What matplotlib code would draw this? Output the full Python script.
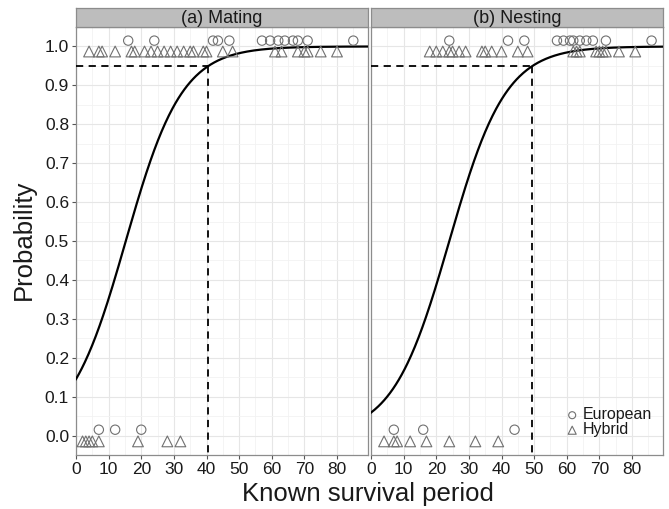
import numpy as np
import matplotlib
matplotlib.use("Agg")
import matplotlib.pyplot as plt

plt.rcParams['font.family'] = ['Liberation Sans', 'DejaVu Sans']

# ---- data ----
panel_titles = ["(a) Mating", "(b) Nesting"]

# panel (a) Mating
a_eur_success = [16, 24, 42, 43.5, 47, 57, 59.5, 62, 64, 66.5, 68, 71, 85]
a_hyb_success = [4, 7, 8, 12, 17, 18, 21, 23, 25, 27, 29, 31, 33, 35, 36, 39, 40,
                 45, 48, 61, 63, 68, 70, 71, 75, 80]
a_eur_fail = [7, 12, 20]
a_hyb_fail = [2, 3, 4, 5, 7, 19, 28, 32]
a_coef = (-1.774, 0.1162)   # logistic intercept, slope
a_x95 = 40.6

# panel (b) Nesting
b_eur_success = [24, 42, 47, 57, 59, 61, 62, 64, 66, 68, 72, 86]
b_hyb_success = [18, 20, 22, 24, 25, 27, 29, 34, 35, 37, 40, 45, 48, 62, 63, 64,
                 69, 70, 71, 72, 76, 81]
b_eur_fail = [7, 16, 44]
b_hyb_fail = [4, 7, 8, 12, 17, 24, 32, 39]
b_coef = (-2.77, 0.1154)
b_x95 = 49.5

yticks = [0.0, 0.1, 0.2, 0.3, 0.4, 0.5, 0.6, 0.7, 0.8, 0.9, 1.0]
xticks = [0, 10, 20, 30, 40, 50, 60, 70, 80]

W, H = 669, 509
fig = plt.figure(figsize=(W / 100, H / 100), dpi=100)

def fx(px):
    return px / W

def fy(py):
    return 1 - py / H

panels = [
    (76, 368, panel_titles[0], a_eur_success, a_hyb_success, a_eur_fail, a_hyb_fail, a_coef, a_x95),
    (371, 663, panel_titles[1], b_eur_success, b_hyb_success, b_eur_fail, b_hyb_fail, b_coef, b_x95),
]
top, bottom, strip_top = 27, 455, 8
XLIM = (0, 89.5)
YLIM = (-0.05, 1.05)
mk_col = '#707070'

for i, (l, r, title, es, hs, ef, hf, coef, x95) in enumerate(panels):
    ax = fig.add_axes([fx(l), fy(bottom), fx(r - l), (bottom - top) / H])
    ax.set_xlim(*XLIM)
    ax.set_ylim(*YLIM)
    ax.set_xticks(xticks)
    ax.set_xticks(np.arange(5, 90, 10), minor=True)
    ax.set_yticks(yticks)
    ax.set_yticks(np.arange(0.05, 1.05, 0.1), minor=True)
    ax.grid(True, which='major', color='#e6e6e6', lw=0.8)
    ax.grid(True, which='minor', color='#f2f2f2', lw=0.6)
    ax.set_axisbelow(True)
    for s in ax.spines.values():
        s.set_color('#8c8c8c')
        s.set_linewidth(0.9)
    ax.tick_params(which='minor', length=0)
    ax.tick_params(which='major', length=3, color='#555555', labelsize=12.5,
                   labelcolor='#1a1a1a', pad=2)
    ax.set_xticklabels([str(t) for t in xticks])
    if i == 0:
        ax.set_yticklabels([f"{t:.1f}" for t in yticks])
    else:
        ax.tick_params(axis='y', left=False, labelleft=False)

    xs = np.linspace(XLIM[0], XLIM[1], 400)
    p = 1 / (1 + np.exp(-(coef[0] + coef[1] * xs)))
    ax.plot(xs, p, color='black', lw=1.6, zorder=3)
    ax.plot([XLIM[0], x95], [0.95, 0.95], color='black', lw=1.3, ls=(0, (4, 3)), zorder=3)
    ax.plot([x95, x95], [0.95, YLIM[0]], color='black', lw=1.3, ls=(0, (4, 3)), zorder=3)

    ax.scatter(es, [1.015] * len(es), marker='o', s=45, facecolors='none',
               edgecolors=mk_col, linewidths=0.8, zorder=4, label='European')
    ax.scatter(hs, [0.987] * len(hs), marker='^', s=60, facecolors='none',
               edgecolors=mk_col, linewidths=0.8, zorder=4, label='Hybrid')
    ax.scatter(ef, [0.015] * len(ef), marker='o', s=45, facecolors='none',
               edgecolors=mk_col, linewidths=0.8, zorder=4)
    ax.scatter(hf, [-0.015] * len(hf), marker='^', s=60, facecolors='none',
               edgecolors=mk_col, linewidths=0.8, zorder=4)

    if i == 1:
        leg = ax.legend(loc='lower right', bbox_to_anchor=(1.0, 0.015), frameon=False,
                        fontsize=11.5, handletextpad=0.05, labelspacing=0.0,
                        markerscale=0.75, borderaxespad=0.3, handlelength=1.2)
        for t in leg.get_texts():
            t.set_color('#1a1a1a')

    # strip
    sax = fig.add_axes([fx(l), fy(top), fx(r - l), (top - strip_top) / H])
    sax.set_facecolor('#bdbdbd')
    sax.set_xticks([])
    sax.set_yticks([])
    for s in sax.spines.values():
        s.set_color('#8c8c8c')
        s.set_linewidth(0.9)
    sax.text(0.5, 0.45, title, ha='center', va='center', fontsize=13, color='#1a1a1a',
             transform=sax.transAxes)

fig.text(fx(368), fy(494), "Known survival period", ha='center', va='center', fontsize=18.5, color='#1a1a1a')
fig.text(fx(24), fy(240), "Probability", ha='center', va='center', rotation=90, fontsize=18.5, color='#1a1a1a')

fig.savefig("out.png", dpi=100)
